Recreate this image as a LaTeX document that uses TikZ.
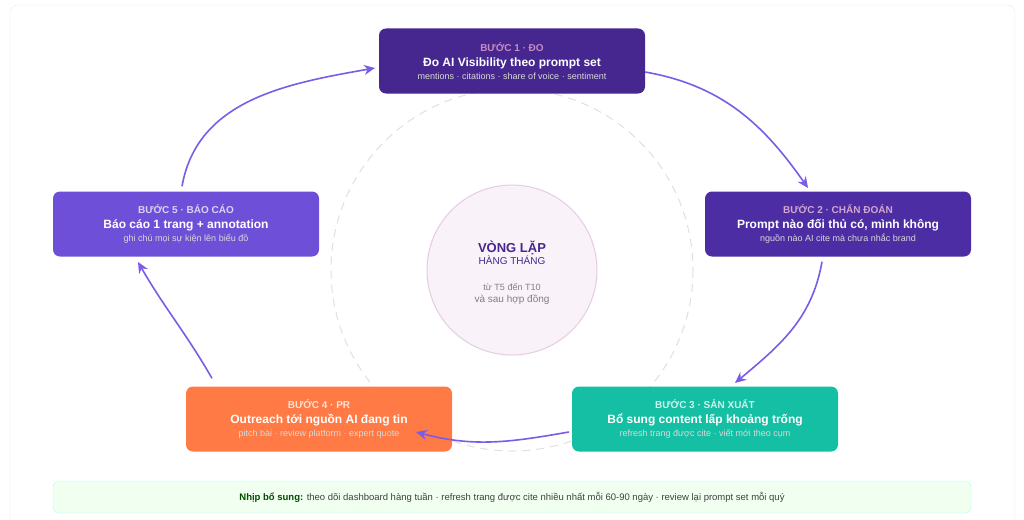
\documentclass[tikz,border=0pt]{standalone}
\usepackage{fontspec}
\setmainfont{Liberation Sans}
\usetikzlibrary{arrows.meta}
\definecolor{c1}{HTML}{45278F}
\definecolor{c2}{HTML}{4C2DA3}
\definecolor{c3}{HTML}{14BFA3}
\definecolor{c4}{HTML}{FF7A45}
\definecolor{c5}{HTML}{6E50D8}
\definecolor{arr}{HTML}{7B5CE6}
\tikzset{
 stepbox/.style={rounded corners=7pt,minimum width=266pt,minimum height=65pt,inner sep=0pt,text=white,align=center},
 flow/.style={draw=arr,line width=1.6pt,-{Stealth[length=11pt,width=10pt]}},
}
\newcommand{\bx}[4]{{\fontsize{10}{12}\selectfont\bfseries\color{#1}#2}\\[3pt]{\fontsize{12}{14}\selectfont\bfseries #3}\\[1pt]{\fontsize{9}{11}\selectfont\color{white!85!black}#4}}
\begin{document}
\begin{tikzpicture}[x=1pt,y=-1pt]
\useasboundingbox (0,0) rectangle (1024,519);
\fill[white] (0,0) rectangle (1024,519);
\draw[black!8,rounded corners=8pt] (10,5) rectangle (1015,530);
\draw[black!12,dashed,line width=1pt,dash pattern=on 8pt off 6pt] (512,270) circle (181);
\node[circle,fill=violet!5,draw=violet!20,line width=1pt,minimum size=170pt,align=center] (c) at (512,270) {};
\node[align=center,text=c1] at (512,253) {\fontsize{13}{19}\selectfont\bfseries VÒNG LẶP\\HÀNG THÁNG};
\node[align=center,text=black!50] at (512,294) {\fontsize{9}{14}\selectfont từ T5 đến T10\\và sau hợp đồng};
\node[stepbox,fill=c1] (b1) at (512,61) {\bx{violet!45}{BƯỚC 1 · ĐO}{Đo AI Visibility theo prompt set}{mentions · citations · share of voice · sentiment}};
\node[stepbox,fill=c2] (b2) at (838,224) {\bx{violet!35}{BƯỚC 2 · CHẨN ĐOÁN}{Prompt nào đối thủ có, mình không}{nguồn nào AI cite mà chưa nhắc brand}};
\node[stepbox,fill=c3] (b3) at (705,419) {\bx{white!80!c3}{BƯỚC 3 · SẢN XUẤT}{Bổ sung content lấp khoảng trống}{refresh trang được cite · viết mới theo cụm}};
\node[stepbox,fill=c4] (b4) at (319,419) {\bx{white!75!c4}{BƯỚC 4 · PR}{Outreach tới nguồn AI đang tin}{pitch bài · review platform · expert quote}};
\node[stepbox,fill=c5] (b5) at (186,224) {\bx{white!75!c5}{BƯỚC 5 · BÁO CÁO}{Báo cáo 1 trang + annotation}{ghi chú mọi sự kiện lên biểu đồ}};
\coordinate (a1) at (808,188); \coordinate (a2) at (735,383);
\coordinate (a3) at (416,432); \coordinate (a4) at (138,262); \coordinate (a5) at (375,68);
\draw[flow] (b1.east) ++(0,11) to[out=-10,in=125] (a1);
\draw[flow] (b2.south) ++(-16,5) to[out=-100,in=40] (a2);
\draw[flow] (b3.west) ++(-3,13) to[out=190,in=-15] (a3);
\draw[flow] (b4.north) ++(-107,-8) to[out=120,in=-60] (a4);
\draw[flow] (b5.north) ++(-4,-5) to[out=80,in=190] (a5);
\node[draw=green!25!cyan!30,fill=green!6,rounded corners=6pt,minimum width=918pt,minimum height=32pt,text=black!75] (f) at (512,497) {\fontsize{9.5}{12}\selectfont\textbf{\color{green!30!black}Nhịp bổ sung:} theo dõi dashboard hàng tuần · refresh trang được cite nhiều nhất mỗi 60-90 ngày · review lại prompt set mỗi quý};
\end{tikzpicture}
\end{document}
